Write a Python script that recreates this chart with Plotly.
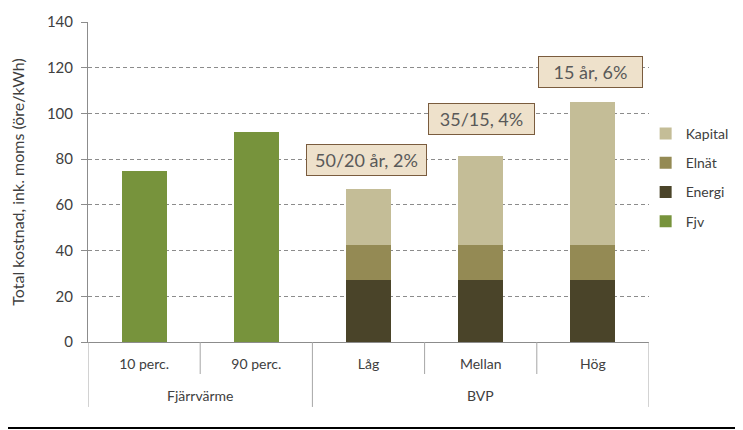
import plotly.graph_objects as go

groups = ["Fjärrvärme", "BVP"]
group_span = [(0, 1), (2, 4)]
cats = ["10 perc.", "90 perc.", "Låg", "Mellan", "Hög"]

fjv = [75, 92, None, None, None]
energi = [None, None, 27, 27, 27]
elnat = [None, None, 15.5, 15.5, 15.5]
kapital = [None, None, 24.5, 39, 62.5]

notes = ["50/20 år, 2%", "35/15, 4%", "15 år, 6%"]
note_y = [79.7, 97.6, 118.1]
note_xp = [0.497, 0.701, 0.896]
note_w = [111, 97, 95]

FONT = "Lato, 'Open Sans', sans-serif"
GRAY = "#8C8C8C"

fig = go.Figure()
series = [("Fjv", fjv, "#77933C", 4), ("Energi", energi, "#4A4429", 3),
          ("Elnät", elnat, "#948A54", 2), ("Kapital", kapital, "#C4BD97", 1)]
for name, vals, col, rank in series:
    fig.add_trace(go.Bar(x=cats, y=vals, name=name, marker_color=col,
                         marker_line_width=0, legendgroup=name, legendrank=rank))

for t, yv, xp, w in zip(notes, note_y, note_xp, note_w):
    fig.add_annotation(x=xp, xref="paper", y=yv, yref="y", text=t, showarrow=False,
                       font=dict(family=FONT, size=18, color="#595959"),
                       width=w, height=22, align="center",
                       bgcolor="#EEE1CB", bordercolor="#7A5C3E", borderwidth=1,
                       borderpad=4, xanchor="center", yanchor="middle")

# group labels (second level of category axis)
for g, (a, b) in zip(groups, group_span):
    fig.add_annotation(x=(a + b) / 2, xref="x", y=-0.168, yref="paper", text=g,
                       showarrow=False, yanchor="middle",
                       font=dict(family=FONT, size=14, color="#404040"))

# separators under the category axis
for i in range(len(cats) + 1):
    b = i - 0.5
    is_group_edge = i in (0, 2, len(cats))
    fig.add_shape(type="line", xref="x", yref="paper", x0=b, x1=b, y0=0,
                  y1=-0.203 if is_group_edge else -0.10,
                  line=dict(color="#A6A6A6", width=1))

# bottom black rule
fig.add_shape(type="line", xref="paper", yref="paper", x0=-0.2, x1=1.2,
              y0=-0.269, y1=-0.269, line=dict(color="#000000", width=2))

# the page body adds an 8px offset, so the figure is 8px smaller
fig.update_layout(
    width=735, height=422,
    margin=dict(l=80, r=94, t=14, b=88, autoexpand=False),
    barmode="stack", bargap=0.6,
    paper_bgcolor="white", plot_bgcolor="white",
    font=dict(family=FONT, size=14, color="#404040"),
    legend=dict(x=0.994, y=0.70, xanchor="left", yanchor="top",
                traceorder="grouped", tracegroupgap=8, bgcolor="rgba(0,0,0,0)",
                font=dict(family=FONT, size=14, color="#404040")),
    showlegend=True,
)
fig.update_xaxes(type="category", range=[-0.5, 4.5], showline=True, linecolor=GRAY,
                 linewidth=1, ticks="", automargin=False, ticklabelstandoff=9,
                 tickfont=dict(family=FONT, size=14, color="#404040"))
fig.update_yaxes(range=[0, 140], dtick=20, showgrid=True, gridcolor=GRAY,
                 griddash="4px,3px", gridwidth=1, zeroline=False, automargin=False,
                 showline=True, linecolor=GRAY, linewidth=1,
                 ticks="outside", ticklen=6, tickcolor=GRAY, ticklabelstandoff=5,
                 tickfont=dict(family=FONT, size=15, color="#404040"),
                 title=dict(text="Total kostnad, ink. moms (öre/kWh)",
                            font=dict(family=FONT, size=16, color="#404040"), standoff=20))

fig.write_html("out.html")
